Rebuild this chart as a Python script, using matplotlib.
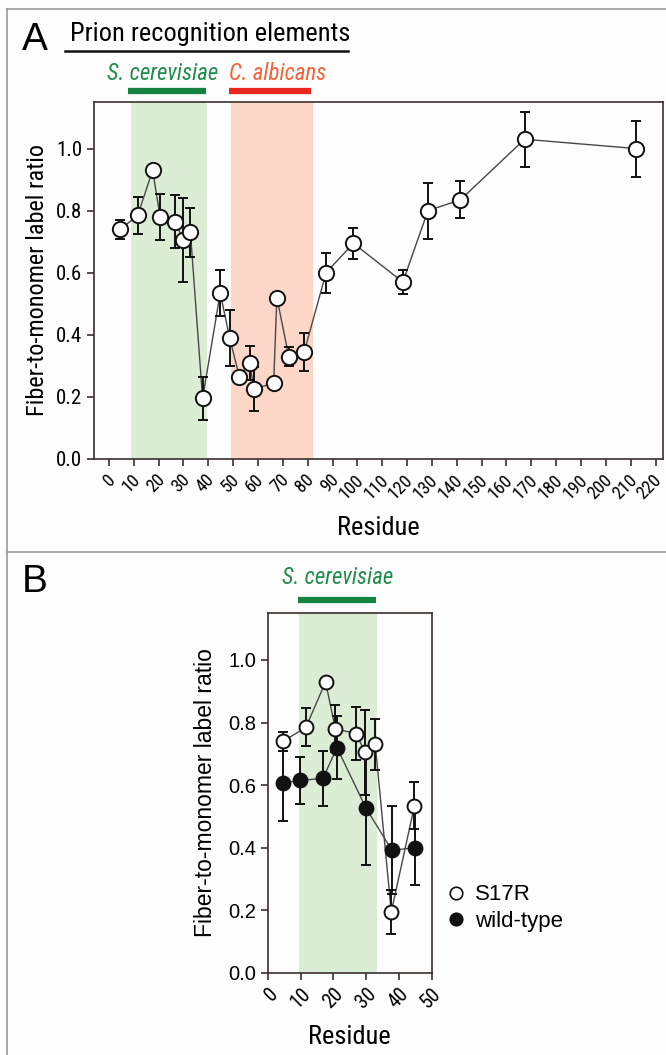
import matplotlib
matplotlib.use('Agg')
import matplotlib.pyplot as plt
from matplotlib.lines import Line2D
from matplotlib.transforms import ScaledTranslation
from matplotlib import font_manager

W, H = 666, 1055

# S17R scan (panel A, first nine points reused in panel B)
s17r_residue = [4.6, 11.6, 17.6, 20.6, 26.8, 29.8, 32.8, 37.7, 44.8, 48.6, 52.5, 56.6,
                58.4, 66.3, 67.6, 72.4, 78.6, 87.4, 98.4, 118.3, 128.4, 141.5, 167.3, 212.2]
s17r_ratio = [0.74, 0.785, 0.93, 0.78, 0.765, 0.705, 0.73, 0.195, 0.535, 0.39, 0.265, 0.31,
              0.225, 0.245, 0.52, 0.33, 0.345, 0.60, 0.695, 0.57, 0.80, 0.835, 1.03, 1.0]
s17r_err = [0.03, 0.06, 0.0, 0.075, 0.085, 0.135, 0.08, 0.07, 0.075, 0.09, 0.01, 0.055,
            0.07, 0.0, 0.015, 0.03, 0.06, 0.065, 0.05, 0.04, 0.09, 0.06, 0.088, 0.09]

# wild-type (panel B)
wt_residue = [4.7, 9.8, 16.8, 21.1, 30.0, 37.9, 44.9]
wt_ratio = [0.607, 0.615, 0.622, 0.72, 0.526, 0.392, 0.40]
wt_err = [0.12, 0.075, 0.088, 0.10, 0.18, 0.14, 0.12]

n_b = 9  # S17R points shown in panel B

green_fill = '#dcedd6'
red_fill = '#fcd6c6'
green_bar = '#15823f'
red_bar = '#e8261f'
green_txt = '#1e8c4a'
red_txt = '#f26236'
frame_col = '#3b2f2f'


# pick a regular-weight narrow face for the Myriad-like labels
def has_regular(name):
    for f in font_manager.fontManager.ttflist:
        w = f.weight if isinstance(f.weight, int) else font_manager.weight_dict.get(f.weight, 400)
        if f.name == name and f.style == 'normal' and w == 400:
            return True
    return False


narrow_fam = 'DejaVu Sans'
for cand in ['Liberation Sans Narrow', 'Roboto Condensed', 'Open Sans Condensed', 'Roboto']:
    if has_regular(cand):
        narrow_fam = cand
        break
narrow = dict(family=[narrow_fam, 'DejaVu Sans'], weight='normal')
arial = dict(family=['Liberation Sans', 'DejaVu Sans'])


def fx(px):
    return px / W


def fy(py):
    return 1 - py / H


def axes_rect(l, r, t, b):
    return [fx(l), fy(b), (r - l) / W, (b - t) / H]


def draw_series(ax, x, y, e, face, ms):
    ax.plot(x, y, '-', color='#474747', lw=1.0, zorder=2)
    ax.errorbar(x, y, yerr=e, fmt='none', ecolor='#111111', elinewidth=1.4,
                capsize=3.5, capthick=1.4, zorder=3)
    ax.plot(x, y, 'o', ms=ms, mfc=face, mec='#111111', mew=1.4, ls='none', zorder=4)


def style_axes(ax):
    for s in ax.spines.values():
        s.set_color(frame_col)
        s.set_linewidth(1.2)
    ax.tick_params(direction='out', length=5, width=1.2, color=frame_col)


def nudge_xlabels(ax, dx_px):
    off = ScaledTranslation(dx_px / 100, 0, ax.figure.dpi_scale_trans)
    for lab in ax.get_xticklabels():
        lab.set_transform(lab.get_transform() + off)


fig = plt.figure(figsize=(W / 100, H / 100), dpi=100)
fig.patch.set_facecolor('#fdfdfe')

# panel borders
fig.add_artist(Line2D([fx(7), fx(7)], [fy(9), fy(1055)], color='#9a9a9a', lw=1.2))
fig.add_artist(Line2D([fx(7), fx(666)], [fy(9), fy(9)], color='#9a9a9a', lw=1.2))
fig.add_artist(Line2D([fx(7), fx(666)], [fy(552), fy(552)], color='#9a9a9a', lw=1.2))

# ---- panel A ----
axA = fig.add_axes(axes_rect(94, 663, 102, 459))
axA.set_facecolor('#fdfdfe')
axA.axvspan(9, 39.5, color=green_fill, lw=0, zorder=0)
axA.axvspan(49.3, 82, color=red_fill, lw=0, zorder=0)
draw_series(axA, s17r_residue, s17r_ratio, s17r_err, 'white', 11)
axA.set_xlim(-6, 223)
axA.set_ylim(0, 1.15)
axA.set_xticks(range(0, 221, 10))
axA.set_xticklabels([str(v) for v in range(0, 221, 10)], rotation=45,
                    ha='right', rotation_mode='anchor', fontsize=13, **narrow)
axA.set_yticks([0, 0.2, 0.4, 0.6, 0.8, 1.0])
axA.set_yticklabels(['0.0', '0.2', '0.4', '0.6', '0.8', '1.0'], fontsize=15, **narrow)
axA.set_xlabel('Residue', fontsize=19, labelpad=10, **narrow)
axA.set_ylabel('Fiber-to-monomer label ratio', fontsize=17.5, labelpad=5, **narrow)
style_axes(axA)
nudge_xlabels(axA, -3)

fig.text(fx(22), fy(40), 'A', fontsize=28, va='center', ha='left', **arial)
fig.text(fx(70), fy(34), 'Prion recognition elements', fontsize=19, va='center',
         ha='left', **narrow)
fig.add_artist(Line2D([fx(65), fx(348)], [fy(51), fy(51)], color='#111111', lw=1.8))
fig.text(fx(163), fy(73), 'S. cerevisiae', fontsize=16.5, style='italic', color=green_txt,
         va='center', ha='center', **narrow)
fig.text(fx(278), fy(73), 'C. albicans', fontsize=16.5, style='italic', color=red_txt,
         va='center', ha='center', **narrow)
fig.add_artist(Line2D([fx(128), fx(206)], [fy(91), fy(91)], color=green_bar, lw=4.5,
                      solid_capstyle='butt'))
fig.add_artist(Line2D([fx(229), fx(311)], [fy(91), fy(91)], color=red_bar, lw=4.5,
                      solid_capstyle='butt'))

# ---- panel B ----
axB = fig.add_axes(axes_rect(268, 431.5, 613, 973))
axB.set_facecolor('#fdfdfe')
axB.axvspan(9.5, 33.2, color=green_fill, lw=0, zorder=0)
draw_series(axB, wt_residue, wt_ratio, wt_err, '#111111', 10)
draw_series(axB, s17r_residue[:n_b], s17r_ratio[:n_b], s17r_err[:n_b], 'white', 10)
axB.set_xlim(0, 50)
axB.set_ylim(0, 1.15)
axB.set_xticks(range(0, 51, 10))
axB.set_xticklabels([str(v) for v in range(0, 51, 10)], rotation=45,
                    ha='right', rotation_mode='anchor', fontsize=14.5, **narrow)
axB.set_yticks([0, 0.2, 0.4, 0.6, 0.8, 1.0])
axB.set_yticklabels(['0.0', '0.2', '0.4', '0.6', '0.8', '1.0'], fontsize=14.5, **arial)
axB.set_xlabel('Residue', fontsize=19, labelpad=9, **narrow)
axB.set_ylabel('Fiber-to-monomer label ratio', fontsize=16.5, labelpad=8, **arial)
style_axes(axB)

fig.text(fx(22), fy(582), 'B', fontsize=28, va='center', ha='left', **arial)
fig.text(fx(338), fy(578), 'S. cerevisiae', fontsize=16.5, style='italic', color=green_txt,
         va='center', ha='center', **narrow)
fig.add_artist(Line2D([fx(298), fx(376)], [fy(600), fy(600)], color=green_bar, lw=4.5,
                      solid_capstyle='butt'))

handles = [Line2D([], [], marker='o', ls='none', ms=9, mfc='white', mec='#111111', mew=1.2),
           Line2D([], [], marker='o', ls='none', ms=9, mfc='#111111', mec='#111111', mew=1.2)]
axB.legend(handles, ['S17R', 'wild-type'], loc='center left', bbox_to_anchor=(1.03, 0.18),
           frameon=False, prop=dict(size=16, **arial), handletextpad=0.35,
           borderaxespad=0, labelspacing=0.25, handlelength=1.0)

fig.savefig('out.png', dpi=100, facecolor=fig.get_facecolor())
